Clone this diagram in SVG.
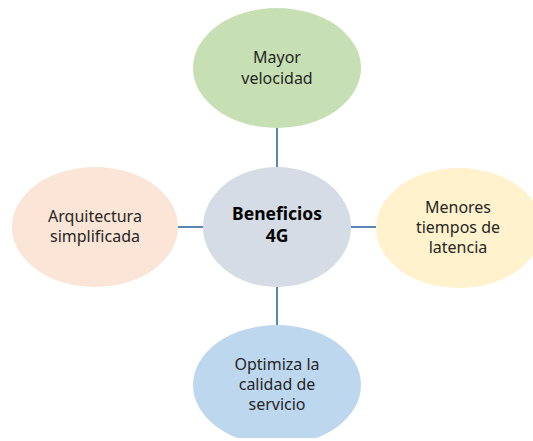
<svg xmlns="http://www.w3.org/2000/svg" width="533" height="441" viewBox="0 0 533 441">
<style>
.t{font-family:"Noto Sans","Liberation Sans",sans-serif;font-size:16px;fill:#262626;text-anchor:middle}
.b{font-weight:bold;font-size:17.5px;fill:#000}
.c{stroke:#5A87B8;stroke-width:2;fill:none}
</style>
<defs><clipPath id="cl"><rect x="0" y="0" width="533" height="438"/></clipPath></defs>
<rect width="533" height="441" fill="#fff"/>
<g id="connectors">
<line class="c" x1="277" y1="128" x2="277" y2="167"/>
<line class="c" x1="277" y1="287" x2="277" y2="325"/>
<line class="c" x1="178" y1="227" x2="203" y2="227"/>
<line class="c" x1="351" y1="227" x2="376" y2="227"/>
</g>
<g id="top">
<ellipse cx="277" cy="68" rx="84" ry="60" fill="#C6E0B4"/>
<text class="t" x="277" y="63">Mayor</text>
<text class="t" x="277" y="84">velocidad</text>
</g>
<g id="center">
<ellipse cx="277" cy="227" rx="74" ry="60" fill="#D6DCE5"/>
<text class="t b" x="277" y="220">Beneficios</text>
<text class="t b" x="277" y="242">4G</text>
</g>
<g id="left">
<ellipse cx="95" cy="227" rx="83" ry="60" fill="#FBE5D6"/>
<text class="t" x="95" y="222">Arquitectura</text>
<text class="t" x="95" y="242">simplificada</text>
</g>
<g id="right">
<ellipse cx="459" cy="228" rx="83" ry="60" fill="#FFF2CC"/>
<text class="t" x="458" y="213">Menores</text>
<text class="t" x="458" y="233">tiempos de</text>
<text class="t" x="458" y="253">latencia</text>
</g>
<g id="bottom" clip-path="url(#cl)">
<ellipse cx="277" cy="385" rx="84" ry="60" fill="#BDD7EE"/>
<text class="t" x="277" y="370">Optimiza la</text>
<text class="t" x="277" y="390">calidad de</text>
<text class="t" x="277" y="410">servicio</text>
</g>
</svg>
